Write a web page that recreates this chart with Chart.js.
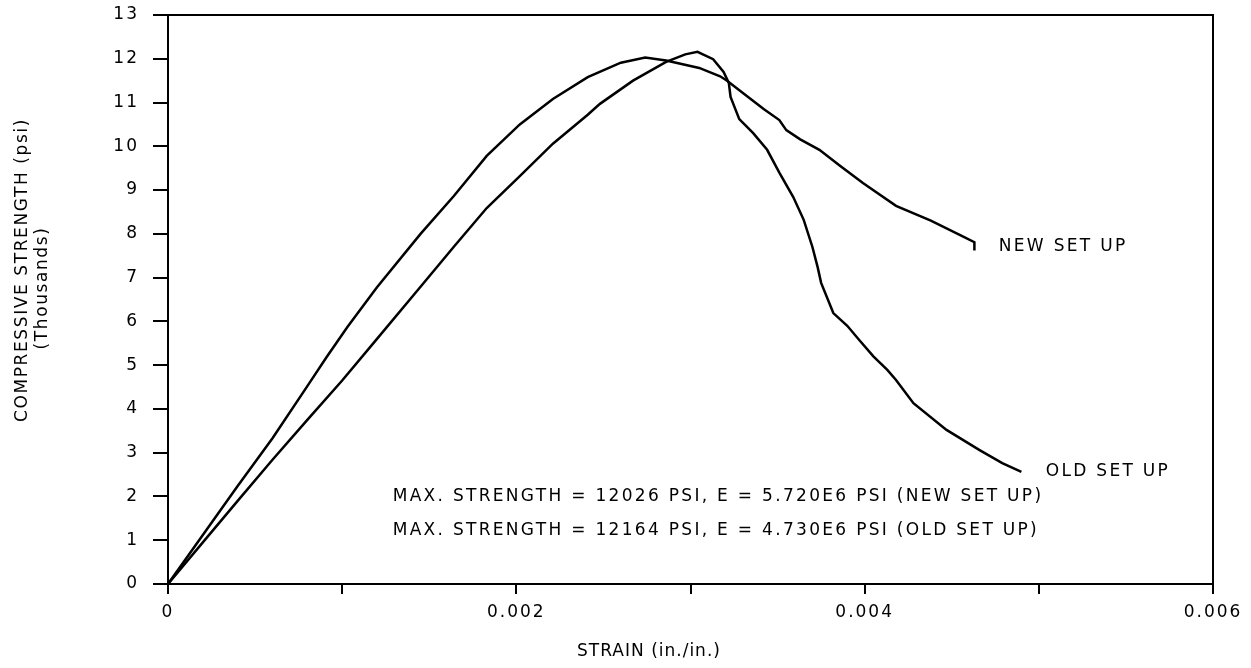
<!DOCTYPE html>
<html>
<head>
<meta charset="utf-8">
<script src="https://cdn.jsdelivr.net/npm/chart.js@4.4.1/dist/chart.umd.min.js"></script>
<style>
  html, body { margin: 0; padding: 0; background: #fff; }
  #wrap { width: 1251px; height: 668px; }
</style>
</head>
<body>
<div id="wrap"><canvas id="strainChart"></canvas></div>
<script>
// strain (in./in.) and compressive strength (thousands of psi)
const strainNew = [0, 0.0002, 0.0004, 0.0006, 0.0008, 0.00091, 0.00103, 0.0012, 0.00145, 0.00164, 0.00183,
  0.00202, 0.00221, 0.00241, 0.0026, 0.00274, 0.00286, 0.00305, 0.00317, 0.00321, 0.00334, 0.00342,
  0.00351, 0.00355, 0.00363, 0.00374, 0.00386, 0.00399, 0.00418, 0.00438, 0.00456, 0.00463, 0.00463];
const stressNew = [0, 1.12, 2.24, 3.33, 4.52, 5.18, 5.87, 6.78, 8.0, 8.86, 9.78,
  10.5, 11.08, 11.58, 11.91, 12.03, 11.96, 11.79, 11.6, 11.5, 11.1, 10.85,
  10.6, 10.37, 10.16, 9.92, 9.55, 9.16, 8.64, 8.3, 7.95, 7.81, 7.62];

const strainOld = [0, 0.0002, 0.0004, 0.0006, 0.0008, 0.001, 0.0012, 0.00145, 0.00164,
  0.00183, 0.00202, 0.00221, 0.00241, 0.00248, 0.00267, 0.00286, 0.00297, 0.00304, 0.00313, 0.00319,
  0.00322, 0.00323, 0.00328, 0.00336, 0.00344, 0.00351, 0.00359, 0.00365, 0.0037, 0.00373, 0.00375,
  0.00382, 0.0039, 0.00397, 0.00405, 0.00413, 0.00418, 0.00428, 0.00447, 0.00466, 0.00479, 0.0049];
const stressOld = [0, 0.95, 1.9, 2.84, 3.75, 4.65, 5.6, 6.79, 7.7,
  8.59, 9.32, 10.06, 10.72, 10.97, 11.5, 11.93, 12.1, 12.16, 11.99, 11.7,
  11.45, 11.13, 10.62, 10.3, 9.92, 9.4, 8.84, 8.32, 7.7, 7.24, 6.88,
  6.19, 5.9, 5.57, 5.2, 4.89, 4.66, 4.13, 3.52, 3.06, 2.76, 2.56];

const xTickLabels = ['0', '', '0.002', '', '0.004', '', '0.006'];
const yTitle = ['COMPRESSIVE STRENGTH (psi)', '(Thousands)'];
const xTitle = 'STRAIN (in./in.)';
// [text, strain, strength]
const notes = [
  ['NEW SET UP', 0.00477, 7.7],
  ['OLD SET UP', 0.00504, 2.56],
  ['MAX. STRENGTH = 12026 PSI, E = 5.720E6 PSI (NEW SET UP)', 0.00129, 2.0],
  ['MAX. STRENGTH = 12164 PSI, E = 4.730E6 PSI (OLD SET UP)', 0.00129, 1.21]
];

const FONT = '17px "DejaVu Sans"';

function pairs(xs, ys) {
  return xs.map((x, i) => ({ x: x, y: ys[i] }));
}

const frame = {
  id: 'frame',
  beforeDraw(chart) {
    chart.ctx.letterSpacing = '2px';
  },
  afterDraw(chart) {
    const ctx = chart.ctx;
    const a = chart.chartArea;
    const xs = chart.scales.x, ys = chart.scales.y;
    ctx.save();
    ctx.strokeStyle = '#000';
    ctx.lineWidth = 2;
    ctx.strokeRect(a.left, a.top, a.right - a.left, a.bottom - a.top);
    ctx.fillStyle = '#000';
    ctx.font = FONT;
    ctx.letterSpacing = '2.3px';
    ctx.textBaseline = 'middle';
    ctx.textAlign = 'left';
    notes.forEach(n => {
      ctx.fillText(n[0], xs.getPixelForValue(n[1]), ys.getPixelForValue(n[2]));
    });
    ctx.textAlign = 'center';
    ctx.letterSpacing = '1px';
    ctx.fillText(xTitle, 649, 652);
    ctx.translate(33, 280);
    ctx.rotate(-Math.PI / 2);
    ctx.letterSpacing = '1.6px';
    ctx.fillText(yTitle[0], 10, -10);
    ctx.fillText(yTitle[1], -8, 10);
    ctx.restore();
  }
};

new Chart(document.getElementById('strainChart'), {
  type: 'scatter',
  data: {
    datasets: [{
      label: 'New set up',
      data: pairs(strainNew, stressNew),
      showLine: true,
      borderColor: '#000',
      borderWidth: 2.5,
      pointRadius: 0,
      tension: 0
    }, {
      label: 'Old set up',
      data: pairs(strainOld, stressOld),
      showLine: true,
      borderColor: '#000',
      borderWidth: 2.5,
      pointRadius: 0,
      tension: 0
    }]
  },
  options: {
    responsive: true,
    maintainAspectRatio: false,
    animation: false,
    layout: { padding: { top: 15, right: 38, left: 0, bottom: 0 } },
    plugins: { legend: { display: false }, tooltip: { enabled: false } },
    scales: {
      x: {
        type: 'linear',
        min: 0,
        max: 0.006,
        afterFit(scale) {
          scale.height = 84;
          scale.paddingLeft = 0;
          scale.paddingRight = 0;
        },
        ticks: {
          stepSize: 0.001,
          color: '#000',
          font: { family: 'DejaVu Sans', size: 17 },
          padding: 8,
          maxRotation: 0,
          callback: (v, i) => xTickLabels[i]
        },
        grid: { drawOnChartArea: false, color: '#000', tickLength: 10, lineWidth: 2 },
        border: { display: true, color: '#000', width: 2 }
      },
      y: {
        min: 0,
        max: 13,
        afterFit(scale) {
          scale.width = 168;
          scale.paddingTop = 0;
          scale.paddingBottom = 0;
        },
        ticks: {
          stepSize: 1,
          color: '#000',
          font: { family: 'DejaVu Sans', size: 17 },
          padding: 14
        },
        grid: { drawOnChartArea: false, color: '#000', tickLength: 15, lineWidth: 2 },
        border: { display: true, color: '#000', width: 2 }
      }
    }
  },
  plugins: [frame]
});
</script>
</body>
</html>
